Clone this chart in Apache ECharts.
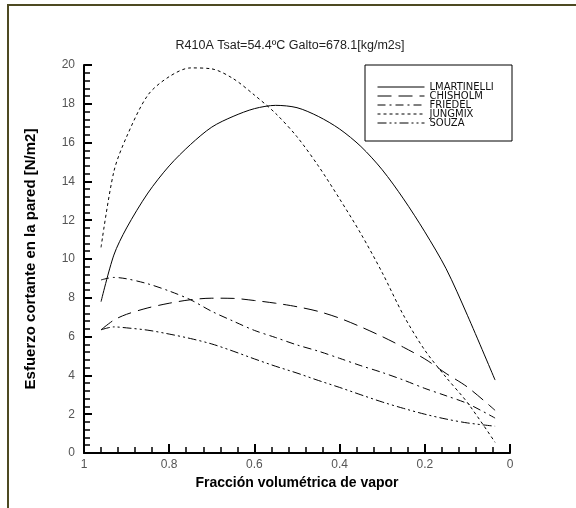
<!DOCTYPE html>
<html>
<head>
<meta charset="utf-8">
<script src="https://cdn.jsdelivr.net/npm/echarts@6/dist/echarts.min.js"></script>
<style>html,body{margin:0;padding:0;background:#fff;}#c{width:576px;height:508px;}</style>
</head>
<body>
<div id="c"></div>
<script>
var titleText = 'R410A Tsat=54.4ºC Galto=678.1[kg/m2s]';
var xName = 'Fracción volumétrica de vapor';
var yName = 'Esfuerzo cortante en la pared [N/m2]';
var seriesNames = ['LMARTINELLI', 'CHISHOLM', 'FRIEDEL', 'JUNGMIX', 'SOUZA'];
var xVals = [0.96, 0.93, 0.9, 0.85, 0.8, 0.75, 0.7, 0.65, 0.6, 0.55, 0.5, 0.45, 0.4, 0.35, 0.3, 0.25, 0.2, 0.15, 0.1, 0.035];
var lmartinelli = [7.8, 10.2, 11.6, 13.4, 14.8, 15.9, 16.8, 17.35, 17.75, 17.92, 17.8, 17.35, 16.7, 15.8, 14.6, 13.1, 11.4, 9.5, 7.1, 3.76];
var chisholm = [6.35, 6.85, 7.15, 7.48, 7.72, 7.9, 7.98, 7.97, 7.86, 7.72, 7.54, 7.3, 6.95, 6.5, 6.0, 5.45, 4.85, 4.1, 3.4, 2.2];
var friedel = [8.92, 9.05, 8.98, 8.72, 8.35, 7.9, 7.3, 6.8, 6.32, 5.95, 5.57, 5.25, 4.88, 4.5, 4.15, 3.76, 3.33, 2.95, 2.55, 1.8];
var jungmix = [10.6, 14.5, 16.3, 18.45, 19.4, 19.85, 19.8, 19.3, 18.45, 17.5, 16.3, 14.8, 13.1, 11.3, 9.3, 7.1, 5.3, 3.9, 2.6, 0.55];
var souza = [6.35, 6.5, 6.45, 6.33, 6.13, 5.9, 5.62, 5.25, 4.85, 4.47, 4.12, 3.74, 3.38, 3.0, 2.63, 2.3, 2.0, 1.75, 1.55, 1.38];
var xTicks = [1, 0.8, 0.6, 0.4, 0.2, 0];
var yTicks = [0, 2, 4, 6, 8, 10, 12, 14, 16, 18, 20];

var allY = [lmartinelli, chisholm, friedel, jungmix, souza];
var dashes = ['solid', [14, 7], [8, 4, 2, 4], [3, 3], [9, 3, 2, 3, 2, 3]];

function pairs(ys) { return xVals.map(function (x, i) { return [x, ys[i]]; }); }

var chart = echarts.init(document.getElementById('c'), null, { renderer: 'canvas' });
var font = '"Liberation Sans", Arial, sans-serif';
chart.setOption({
  backgroundColor: '#fff',
  animation: false,
  title: {
    text: titleText, left: 285, top: 34, textAlign: 'center',
    textStyle: { fontSize: 12.5, fontWeight: 'normal', color: '#222', fontFamily: font }
  },
  grid: { left: 84, right: 66, top: 65, bottom: 55 },
  legend: {
    orient: 'vertical', left: 377, top: 82, itemGap: -1,
    itemWidth: 47, itemHeight: 9, padding: 0,
    data: seriesNames,
    itemStyle: { opacity: 0 },
    lineStyle: { width: 1 },
    textStyle: { fontSize: 10, color: '#111', fontFamily: '"DejaVu Sans", sans-serif', lineHeight: 9, height: 9, padding: [0, 0, 0, 0] }
  },
  xAxis: {
    type: 'value', min: 0, max: 1, interval: 0.2, inverse: true,
    name: xName, nameLocation: 'middle', nameGap: 21,
    nameTextStyle: { fontSize: 14, fontWeight: 'bold', color: '#000', fontFamily: font },
    axisLine: { show: true, onZero: false, lineStyle: { color: '#000', width: 2 } },
    axisTick: { show: true, inside: true, length: 9, lineStyle: { color: '#000', width: 2 } },
    minorTick: { show: true, splitNumber: 5, length: 6, lineStyle: { color: '#000', width: 1.5 } },
    splitLine: { show: false },
    axisLabel: { fontSize: 12, color: '#555', margin: 6, fontFamily: font,
      formatter: function (v) { return xTicks.indexOf(+v.toFixed(2)) >= 0 ? String(+v.toFixed(2)) : ''; } }
  },
  yAxis: {
    type: 'value', min: 0, max: 20, interval: 2,
    name: yName, nameLocation: 'middle', nameGap: 46,
    nameTextStyle: { fontSize: 15, fontWeight: 'bold', color: '#000', fontFamily: font },
    axisLine: { show: true, onZero: false, lineStyle: { color: '#000', width: 2 } },
    axisTick: { show: true, inside: true, length: 8, lineStyle: { color: '#000', width: 2 } },
    minorTick: { show: true, splitNumber: 5, length: 6, lineStyle: { color: '#000', width: 1.5 } },
    splitLine: { show: false },
    axisLabel: { fontSize: 12, color: '#555', margin: 9, fontFamily: font,
      formatter: function (v) { return yTicks.indexOf(v) >= 0 ? String(v) : ''; } }
  },
  graphic: [
    { type: 'rect', shape: { x: 365, y: 65, width: 147, height: 76 }, style: { fill: 'none', stroke: '#000', lineWidth: 1 }, z: 0 },
    { type: 'line', shape: { x1: 8, y1: 5, x2: 8, y2: 508 }, style: { stroke: '#4d4a22', lineWidth: 2 } },
    { type: 'line', shape: { x1: 7, y1: 5, x2: 576, y2: 5 }, style: { stroke: '#4d4a22', lineWidth: 2 } }
  ],
  series: seriesNames.map(function (n, i) {
    return {
      name: n, type: 'line', smooth: 0.3, showSymbol: false, symbol: 'none',
      data: pairs(allY[i]),
      lineStyle: { color: '#000', width: 1, type: dashes[i] },
      itemStyle: { color: '#000' }
    };
  })
});
</script>
</body>
</html>
